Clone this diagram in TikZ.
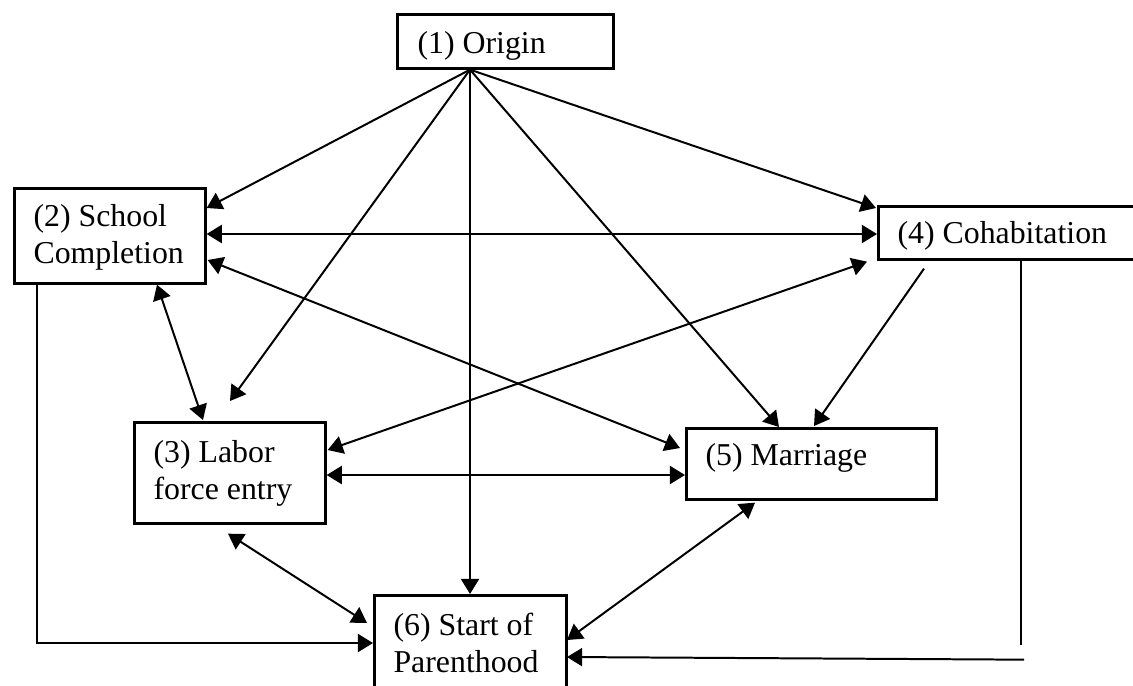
\documentclass[tikz,border=0pt]{standalone}
\usepackage{fontspec}
\setmainfont{Liberation Serif}
\usetikzlibrary{arrows.meta}

\newlength\unitpx
\setlength\unitpx{0.377pt}

\begin{document}
\begin{tikzpicture}[x=\unitpx, y=-\unitpx,
    >={Triangle[length=5.7pt, width=6.8pt]},
    box/.style 2 args={draw, line width=1pt, anchor=north west, inner sep=0pt,
        minimum width=#1*\unitpx, minimum height=#2*\unitpx},
    txt/.style={anchor=base west, align=left, inner sep=0pt,
        font=\fontsize{12}{13.9}\selectfont},
    link/.style={line width=0.75pt}]

    % Page frame
    \useasboundingbox (0, 0) rectangle (1133, 685);
    \clip (0, 0) rectangle (1133, 685);

    % Boxes
    \node[box={216}{54}] (origin) at (396, 13) {};
    \node[box={191}{95}] (school) at (13, 187) {};
    \node[box={270}{53}] (cohab) at (877, 205) {};
    \node[box={191}{101}] (labor) at (133, 421) {};
    \node[box={250}{71}] (marriage) at (685, 427) {};
    \node[box={192}{120}] (parent) at (373, 594) {};

    % Box texts (base of the last line)
    \node[txt] (origintxt) at ([shift={(21, 40)}]origin.north west) {(1) Origin};
    \node[txt] (schooltxt) at ([shift={(20, 76)}]school.north west) {(2) School\\Completion};
    \node[txt] (cohabtxt) at ([shift={(20, 38)}]cohab.north west) {(4) Cohabitation};
    \node[txt] (labortxt) at ([shift={(20, 78)}]labor.north west) {(3) Labor\\force entry};
    \node[txt] (marriagetxt) at ([shift={(20, 38)}]marriage.north west) {(5) Marriage};
    \node[txt] (parenttxt) at ([shift={(20, 78)}]parent.north west) {(6) Start of\\Parenthood};

    % Arrow ends
    \coordinate (o) at ([shift={(74, 0)}]origin.south west);
    \coordinate (s1) at ([shift={(0, 21)}]school.north east);
    \coordinate (l1) at ([shift={(97, -20)}]labor.north west);
    \coordinate (m1) at ([shift={(94, 0)}]marriage.north west);
    \coordinate (c1) at ([shift={(-1, 3)}]cohab.north west);
    \coordinate (c2) at ([shift={(47, 8)}]cohab.south west);
    \coordinate (c3) at ([shift={(144, 0)}]cohab.south west);
    \coordinate (c4) at ([shift={(144, 384)}]cohab.south west);
    \coordinate (c5) at ([shift={(147, 399)}]cohab.south west);

    % Arrows out of the origin
    \foreach \t in {s1, l1, m1, c1}
        \draw[link, ->] (o) -- (\t);
    \draw[link, ->] (o) -- (o |- parent.north);

    % Arrows between the boxes
    \draw[link, <->] ([shift={(0, 47)}]school.north east) -- ([shift={(0, 29)}]cohab.north west);
    \draw[link, <->] ([shift={(1, 73)}]school.north east) -- ([shift={(-5, 21)}]marriage.north west);
    \draw[link, <->] ([shift={(144, 0)}]school.south west) -- ([shift={(70, -1)}]labor.north west);
    \draw[link, <->] ([shift={(1, 29)}]labor.north east) -- ([shift={(-10, 1)}]cohab.south west);
    \draw[link, <->] ([shift={(0, 54)}]labor.north east) -- ([shift={(0, 48)}]marriage.north west);
    \draw[link, ->] (c2) -- ([shift={(129, -1)}]marriage.north west);
    \draw[link, <->] ([shift={(95, 9)}]labor.south west) -- ([shift={(-6, 29)}]parent.north west);
    \draw[link, <->] ([shift={(70, 2)}]marriage.south west) -- ([shift={(194, 46)}]parent.north west);

    % Lines into the start of parenthood
    \draw[link, ->] ([shift={(24, 0)}]school.south west) |- ([shift={(0, 49)}]parent.north west);
    \draw[link] (c3) -- (c4);
    \draw[link, ->] (c5) -- ([shift={(194, 63)}]parent.north west);

\end{tikzpicture}
\end{document}
